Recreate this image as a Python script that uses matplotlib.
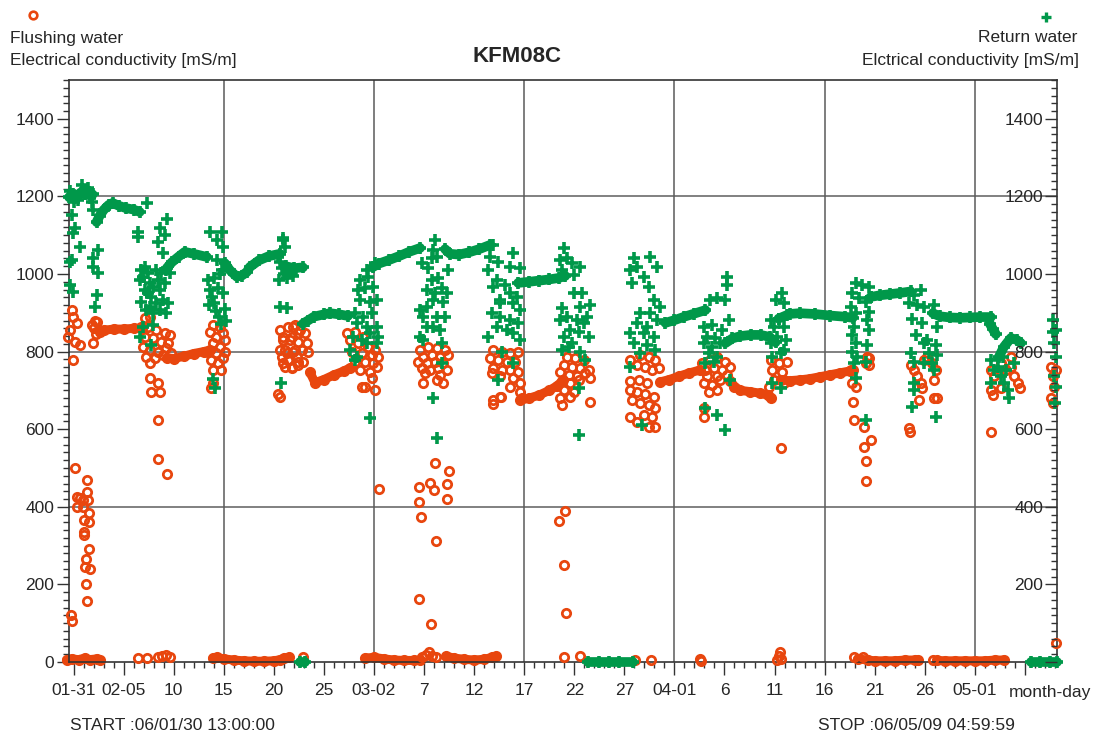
import datetime as dt
import numpy as np
import matplotlib
matplotlib.use("Agg")
import matplotlib.pyplot as plt
import matplotlib.dates as mdates
from matplotlib.lines import Line2D
from matplotlib.ticker import FixedLocator, FixedFormatter, MultipleLocator

NAN = np.nan
# ---------------- data (x = days after 2006-01-30 00:00) ----------------
start_time = dt.datetime(2006, 1, 30, 13, 0, 0)
stop_time = dt.datetime(2006, 5, 9, 4, 59, 59)

# Return water - continuous logger stretches (NaN separates stretches)
ret_trend_day = [0.55, 0.9, 1.3, 1.7, 2.1, 2.5, 2.9, NAN,
                 3.3, 3.6, 4.0, 4.5, 4.9, 5.5, 6.2, 7.0, 7.6, NAN,
                 10.3, 10.8, 11.5, 12.1, 13.0, 14.3, NAN,
                 16.1, 16.6, 17.3, 17.8, 18.3, 18.6, 19.5, 20.5, 21.6, NAN,
                 22.2, 23.0, 23.9, NAN,
                 23.9, 24.4, 25.0, 26.0, 26.6, 27.5, 28.4, NAN,
                 30.9, 31.5, 32.5, 33.5, 34.5, 35.6, NAN,
                 38.1, 38.6, 39.5, 40.5, 41.5, 42.6, NAN,
                 45.4, 46.5, 47.5, 48.5, 49.5, 50.1, NAN,
                 60.1, 61.0, 62.0, 63.0, 64.1, NAN,
                 66.1, 66.8, 67.6, 68.6, 69.6, 70.5, 71.1, NAN,
                 71.4, 72.5, 73.5, 75.0, 76.5, 78.0, 78.8, NAN,
                 80.6, 81.5, 82.5, 83.5, 84.6, NAN,
                 86.8, 87.5, 88.5, 89.5, 90.5, 91.5, 92.6, NAN,
                 92.5, 92.8, 93.1, NAN,
                 93.4, 93.9, 94.6, 95.2, 95.6]
ret_trend_val = [1198, 1205, 1200, 1210, 1206, 1212, 1205, NAN,
                 1134, 1150, 1165, 1178, 1183, 1176, 1170, 1166, 1160, NAN,
                 1015, 1030, 1045, 1057, 1052, 1044, NAN,
                 1028, 1010, 993, 996, 1005, 1018, 1035, 1046, 1052, NAN,
                 1020, 1015, 1017, NAN,
                 872, 880, 890, 896, 899, 896, 892, NAN,
                 1018, 1027, 1036, 1046, 1057, 1067, NAN,
                 1064, 1052, 1050, 1056, 1064, 1075, NAN,
                 977, 980, 983, 986, 990, 995, NAN,
                 874, 881, 890, 898, 907, NAN,
                 822, 834, 840, 843, 843, 838, 824, NAN,
                 885, 897, 899, 897, 893, 890, 887, NAN,
                 941, 945, 948, 951, 955, NAN,
                 899, 891, 888, 887, 888, 889, 889, NAN,
                 872, 858, 845, NAN,
                 786, 812, 835, 830, 822]

# Return water - stretches reading zero
ret_zero_day = [23.6, 24.1, NAN,
                52.4, 53.5, 54.5, 55.5, 56.9, NAN,
                96.6, 97.5, 98.5, 99.2]
ret_zero_val = [0, 0, NAN,
                0, 0, 0, 0, 0, NAN,
                0, 0, 0, 0]

# Return water - scattered readings
ret_pts_day = [0.8, 0.9, 1.1, 1.6, 0.8, 0.6, 0.9, 2.8, 2.9, 1.8, 2.1, 2.4, 1.0, 1.4, 0.6, 2.6, 2.9, 3.4, 2.9, 3.4, 3.3, 3.1, 0.6,
               8.3, 7.4, 7.4, 10.3, 9.6, 10.1, 9.4, 9.9, 7.77, 8.1, 8.43, 7.6, 7.93, 8.6, 8.93, 8.77, 9.27, 9.77, 10.27, 9.43,
               10.1, 9.6, 9.93, 10.43, 9.27, 8.6, 8.27, 8.93, 9.6, 10.27, 10.6, 8.1, 7.77, 8.43, 7.6, 7.93, 8.77, 8.93,
               14.6, 15.3, 15.8, 15.9, 15.3, 15.8, 14.4, 14.6, 14.8, 15.0, 15.2, 15.5, 15.7, 15.9, 16.1, 15.4, 14.5, 16.2, 15.0, 15.6, 15.1, 14.9,
               21.9, 22.1, 21.4, 21.6, 21.8, 22.0, 22.3, 22.6, 22.9, 23.2, 21.5, 21.6, 22.3, 21.7, 21.9,
               30.27, 31.1, 29.6, 30.43, 29.43, 30.1, 30.93, 29.6, 30.6, 31.27, 29.1, 29.93, 30.77, 29.27, 30.27, 31.27,
               28.93, 29.77, 30.6, 31.43, 28.6, 29.27, 30.27, 29.1, 31.27, 30.6,
               37.1, 36.93, 36.77, 37.27, 35.77, 36.43, 38.43, 37.43, 36.77, 36.27, 37.1, 37.77, 38.27, 35.6, 36.27, 36.93,
               37.93, 35.93, 37.27, 38.1, 36.27, 36.93, 37.6, 35.93, 37.77, 35.6, 36.87, 37.27, 37.77,
               42.93, 42.6, 43.43, 44.93, 44.6, 45.6, 42.43, 43.27, 44.1, 42.93, 44.6, 43.6, 44.93, 45.6, 42.77, 43.6,
               44.6, 45.43, 43.27, 44.27, 44.93, 45.6, 42.43, 43.6, 45.27, 43.77, 43.43, 44.93,
               49.93, 49.6, 50.27, 50.77, 51.6, 50.93, 49.77, 50.93, 51.77, 52.6, 51.6, 49.77, 50.27, 49.6, 51.27, 51.93,
               52.27, 50.6, 51.43, 52.43, 49.93, 50.77, 49.77, 51.6, 52.1, 50.43, 51.43, 51.43,
               56.93, 58.6, 56.6, 57.27, 59.27, 57.93, 56.77, 58.43, 58.93, 59.6, 57.6, 58.6, 57.27, 58.27, 59.27, 56.6,
               57.93, 58.93, 56.93, 58.27, 59.1, 57.6, 56.6, 57.77,
               66.27, 66.27, 64.6, 65.27, 66.1, 66.43, 63.93, 64.77, 65.77, 64.27, 65.1, 63.93, 64.77, 65.6, 64.43, 65.27,
               64.1, 64.93, 66.6, 64.1, 65.27, 66.1,
               71.77, 71.1, 71.93, 70.6, 71.43, 72.27, 70.93, 71.93, 70.6, 71.27, 72.1, 70.77, 71.6, 71.93, 70.77, 71.6,
               79.1, 79.77, 80.43, 80.6, 78.77, 79.43, 80.1, 80.43, 78.6, 79.1, 80.27, 80.43, 78.93, 78.77, 79.1, 80.27,
               78.77, 79.27, 80.1, 78.93, 79.1, 80.1,
               85.6, 84.93, 84.43, 85.27, 85.93, 84.77, 85.77, 86.93, 87.27, 86.27, 85.1, 85.93, 87.1, 86.43, 84.6, 84.93,
               85.93, 86.77, 87.27, 84.93, 84.93, 84.77, 86.93, 87.1,
               92.6, 92.93, 93.77, 93.27, 94.1, 93.93, 94.27, 94.43, 92.6, 94.93, 93.6,
               98.77, 99.1, 98.93, 99.1, 98.93, 99.1, 99.0, 98.8]
ret_pts_val = [1152, 1105, 1118, 1070, 1036, 972, 954, 1186, 1165, 1229, 1215, 1222, 1185, 1190, 1215, 1195, 1041, 1062, 1018, 1002, 946, 915, 1031,
               1183, 1108, 1095, 1142, 1118, 1100, 1083, 1054, 1010, 1019, 1002, 985, 993, 976, 967, 942, 1010, 1002, 1010, 985,
               976, 959, 933, 924, 924, 916, 907, 899, 907, 899, 1002, 959, 929, 950, 838, 864, 817, 869,
               1108, 1088, 1108, 1070, 1036, 1010, 985, 960, 940, 925, 905, 890, 870, 950, 910, 965, 920, 880, 990, 1000, 706, 730,
               1088, 1070, 1044, 1030, 1015, 1000, 990, 1005, 995, 1010, 985, 915, 912, 719, 1093,
               1010, 1028, 985, 993, 959, 963, 967, 933, 929, 933, 899, 890, 899, 873, 864, 864,
               838, 830, 847, 838, 804, 787, 821, 778, 821, 628,
               1088, 1062, 1040, 1045, 1028, 1015, 1010, 989, 985, 959, 950, 963, 950, 907, 916, 933,
               929, 890, 890, 890, 864, 864, 856, 830, 821, 838, 680, 577, 770,
               1075, 1045, 1032, 1053, 1019, 1015, 1010, 985, 972, 967, 950, 924, 924, 907, 899, 890,
               881, 873, 864, 856, 847, 830, 838, 933, 942, 800, 727, 770,
               1066, 1036, 1040, 1028, 1019, 997, 1010, 950, 950, 920, 916, 912, 890, 881, 881, 873,
               890, 856, 851, 838, 838, 821, 804, 800, 778, 813, 705, 585,
               1040, 1045, 1010, 1019, 1019, 993, 976, 967, 933, 916, 899, 899, 873, 864, 881, 847,
               847, 838, 821, 817, 804, 796, 761, 611,
               993, 972, 933, 937, 933, 881, 864, 869, 856, 838, 834, 821, 813, 821, 796, 787,
               770, 774, 727, 654, 637, 598,
               950, 933, 924, 881, 885, 894, 864, 864, 821, 838, 830, 787, 796, 804, 718, 705,
               976, 972, 967, 942, 950, 937, 929, 903, 916, 899, 881, 856, 864, 843, 821, 817,
               800, 787, 774, 770, 731, 624,
               959, 946, 924, 920, 916, 885, 873, 920, 864, 830, 843, 821, 817, 796, 796, 774,
               770, 770, 791, 718, 701, 658, 753, 632,
               778, 753, 787, 761, 753, 718, 701, 680, 718, 770, 736,
               851, 856, 821, 787, 736, 710, 667, 881]

# Flushing water - continuous logger stretches
flush_trend_day = [3.6, 4.0, 5.0, 6.0, 7.0, 7.8, NAN,
                   10.3, 11.0, 12.0, 13.0, 14.0, 14.6, NAN,
                   24.6, 25.1, 26.0, 27.0, 28.0, 28.6, NAN,
                   45.6, 46.5, 47.5, 48.5, 49.3, 49.9, NAN,
                   59.6, 60.5, 61.5, 62.5, 63.6, NAN,
                   66.6, 67.0, 67.6, 68.5, 69.5, 70.3, 70.6, NAN,
                   71.6, 72.5, 73.5, 74.5, 75.5, 76.5, 77.5, 78.5, 78.8]
flush_trend_val = [850, 855, 858, 858, 860, 860, NAN,
                   784, 782, 788, 795, 800, 804, NAN,
                   747, 720, 728, 740, 750, 758, NAN,
                   675, 680, 688, 700, 712, 727, NAN,
                   722, 728, 737, 745, 753, NAN,
                   725, 710, 700, 697, 693, 688, 680, NAN,
                   727, 725, 727, 730, 735, 740, 745, 750, 753]

# Flushing water - stretches near zero
flush_zero_day = [0.3, 0.8, 1.5, 2.1, 2.6, 3.3, 3.6, NAN,
                  14.9, 15.3, 16.0, 17.0, 18.0, 19.0, 20.0, 21.0, 21.6, 22.0, 22.5, NAN,
                  30.1, 31.0, 32.0, 33.0, 34.0, 35.0, 35.6, NAN,
                  38.2, 39.0, 40.0, 41.0, 42.0, 42.8, 43.2, NAN,
                  79.3, 80.3, 81.0, 82.0, 83.0, 84.0, 85.0, 85.3, NAN,
                  87.2, 88.0, 89.0, 90.0, 91.0, 92.0, 93.0, 93.9]
flush_zero_val = [6, 8, 6, 10, 6, 8, 5, NAN,
                  10, 12, 8, 5, 3, 2, 2, 3, 6, 10, 12, NAN,
                  10, 12, 8, 5, 4, 4, 5, NAN,
                  15, 10, 7, 5, 7, 12, 15, NAN,
                  8, 5, 3, 3, 3, 5, 5, 4, NAN,
                  4, 3, 3, 3, 3, 3, 5, 5]

# Flushing water - scattered readings
flush_pts_day = [0.8, 0.9, 1.3, 0.6, 0.4, 1.1, 1.6, 0.9, 2.9, 2.8, 3.1, 3.3, 3.0, 3.2,
                 1.1, 1.3, 1.6, 1.9, 1.3, 1.9, 2.4, 2.3, 2.3, 2.5, 2.0, 2.5, 2.0, 2.0, 2.5, 2.2, 2.1, 2.6, 2.2, 2.3, 0.7, 0.8,
                 8.1, 8.6, 7.77, 8.43, 9.27, 10.1, 10.6, 8.1, 8.93, 9.77, 10.43, 7.93, 8.6, 9.43, 10.27, 8.27, 9.1, 9.93,
                 10.77, 8.6, 8.6, 9.43, 8.77, 9.6, 9.43, 9.4, 10.3,
                 14.93, 15.6, 15.93, 14.6, 15.27, 16.1, 14.93, 15.6, 14.43, 15.27, 16.1, 14.77, 15.43, 15.93, 14.93, 15.77, 14.93, 14.77,
                 22.93, 23.6, 24.1, 21.93, 22.6, 23.43, 24.27, 22.1, 22.93, 23.77, 24.43, 21.77, 22.43, 23.27, 23.93, 22.1,
                 22.77, 23.43, 21.6, 21.4, 21.6, 22.43, 23.1, 21.93, 22.77, 23.43, 21.6, 22.27, 23.1, 21.93, 22.77, 23.43,
                 28.27, 29.1, 29.93, 28.6, 29.43, 30.43, 31.1, 28.77, 29.77, 30.77, 31.43, 29.1, 30.1, 30.93, 29.6, 30.6,
                 31.27, 30.77, 29.77, 30.1, 31.1, 31.5,
                 35.6, 36.43, 37.27, 38.1, 35.93, 36.77, 37.6, 38.43, 35.43, 36.27, 37.1, 37.93, 35.77, 36.6, 37.43, 38.27,
                 36.1, 37.6, 37.27, 37.93, 35.93,
                 35.5, 36.6, 37.0, 37.1, 38.5, 38.3, 38.3, 35.5, 35.7, 37.2, 35.5, 36.7,
                 42.93, 43.77, 44.6, 45.43, 42.6, 43.43, 44.27, 45.1, 42.93, 43.77, 44.6, 45.43, 42.77, 43.6, 44.93, 45.6,
                 44.6, 45.6, 42.93, 43.6, 45.77, 42.9, 43.7,
                 50.27, 51.1, 51.93, 49.93, 50.77, 51.6, 52.43, 49.6, 50.43, 51.27, 52.1, 52.6, 49.77, 50.6, 51.43, 49.93,
                 50.93, 49.6, 50.6, 49.77, 52.6, 49.5, 50.1, 50.0, 50.2,
                 57.6, 58.43, 59.1, 56.6, 57.27, 58.1, 58.77, 59.43, 56.6, 57.43, 58.27, 56.6, 57.27, 58.1, 58.93, 56.77,
                 57.6, 58.43, 59.1, 56.6, 57.93, 58.77, 57.27, 58.43, 59.1,
                 63.77, 64.6, 65.27, 66.1, 66.6, 64.1, 64.93, 65.77, 64.27, 65.27, 66.27, 63.93, 64.77, 65.6, 64.43, 65.27,
                 63.93, 63.93,
                 70.6, 71.43, 72.27, 70.77, 71.77, 70.93, 71.93, 70.43, 71.6,
                 78.8, 78.9, 79.9, 80.4, 80.6, 79.9, 80.1, 80.1, 78.6, 78.77, 79.1, 80.1, 80.27, 80.43,
                 84.6, 84.93, 85.27, 85.6, 85.77, 85.43, 85.93, 86.27, 86.77, 87.1, 86.93, 86.93, 87.27, 84.43, 84.5,
                 92.6, 92.93, 93.6, 94.1, 94.6, 94.93, 95.27, 95.53, 92.6, 92.77, 93.6, 92.6, 94.6,
                 98.6, 98.77, 98.93, 98.6, 98.77, 99.1,
                 7.4, 8.3, 9.4, 9.8, 10.2, 10.6, 23.9, 35.8, 36.2, 36.5, 36.8, 37.2, 50.0, 51.6, 57.1, 58.7,
                 63.6, 63.7, 71.2, 71.4, 71.5, 71.6, 78.9, 79.8, 86.8, 99.15]
flush_pts_val = [907, 889, 874, 856, 838, 825, 817, 778, 822, 869, 880, 876, 860, 845,
                 500, 425, 422, 417, 400, 400, 417, 469, 438, 384, 366, 361, 335, 327, 291, 265, 245, 240, 201, 157, 121, 106,
                 886, 890, 864, 864, 856, 847, 843, 838, 834, 826, 821, 813, 804, 800, 808, 787, 783, 791,
                 796, 770, 731, 718, 697, 697, 624, 523, 485,
                 869, 864, 847, 851, 838, 830, 821, 813, 800, 796, 800, 778, 770, 783, 753, 753, 718, 705,
                 864, 856, 847, 838, 830, 826, 821, 804, 800, 804, 800, 787, 778, 787, 774, 761,
                 757, 765, 684, 690, 856, 864, 869, 830, 838, 847, 804, 796, 804, 770, 761, 774,
                 847, 851, 838, 830, 821, 813, 804, 800, 796, 791, 787, 774, 774, 770, 753, 748,
                 761, 731, 710, 710, 701, 446,
                 804, 813, 808, 804, 787, 791, 787, 791, 774, 770, 774, 770, 757, 753, 757, 753,
                 744, 740, 727, 718, 718,
                 451, 461, 443, 513, 492, 459, 420, 412, 374, 312, 162, 98,
                 804, 800, 796, 800, 783, 778, 774, 774, 757, 753, 753, 748, 744, 736, 731, 718,
                 710, 697, 675, 684, 680, 665, 683,
                 787, 783, 778, 765, 761, 757, 753, 748, 740, 736, 744, 731, 723, 718, 727, 701,
                 697, 680, 684, 662, 671, 363, 389, 250, 126,
                 791, 787, 778, 778, 765, 761, 753, 757, 723, 727, 718, 701, 697, 692, 684, 675,
                 667, 662, 654, 632, 637, 632, 619, 606, 606,
                 770, 778, 787, 774, 761, 753, 757, 753, 736, 736, 740, 718, 714, 727, 697, 701,
                 654, 632,
                 778, 770, 774, 753, 748, 727, 718, 710, 551,
                 670, 623, 606, 783, 572, 554, 518, 467, 753, 718, 710, 770, 787, 765,
                 765, 753, 736, 718, 705, 675, 778, 787, 770, 753, 727, 680, 680, 603, 593,
                 753, 736, 770, 753, 761, 736, 718, 705, 701, 688, 705, 593, 787,
                 761, 736, 710, 680, 667, 753,
                 10, 10, 12, 16, 18, 12, 12, 12, 18, 27, 15, 12, 13, 15, 5, 5,
                 8, 3, 5, 15, 25, 8, 12, 12, 5, 49]

# Axis labelling values
y_major = [0, 200, 400, 600, 800, 1000, 1200, 1400]
y_right_labels = ["", "200", "400", "600", "800", "1000", "1200", "1400"]
y_grid = [400, 800, 1200]
x_major_day = [1 + 5 * k for k in range(20)]          # Jan 31 ... May 6
x_grid_day = [16, 31, 46, 61, 76, 91]                 # every 15 days

# ---------------- styling ----------------
ORANGE = "#E8460E"
GREEN = "#00984A"
TXT = "#262626"
plt.rcParams["font.family"] = ["Liberation Sans", "DejaVu Sans"]

base = dt.datetime(2006, 1, 30)
base_num = mdates.date2num(base)


def to_x(days):
    return base_num + np.asarray(days, dtype=float)


fig = plt.figure(figsize=(10.97, 7.37), dpi=100)
ax = fig.add_axes([69 / 1097, 1 - 662 / 737, (1057 - 69) / 1097, (662 - 80) / 737])

ax.set_xlim(mdates.date2num(start_time), mdates.date2num(stop_time))
ax.set_ylim(0, 1500)

for yv in y_grid:
    ax.axhline(yv, color="#808080", lw=1.4, zorder=1)
for d in x_grid_day:
    ax.axvline(to_x(d), color="#5a5a5a", lw=1.1, zorder=1)

CIRC = dict(ls="none", marker="o", ms=6, mfc="none", mec=ORANGE, mew=2.0)
PLUS = dict(ls="none", marker="+", ms=8, mec=GREEN, mew=2.6)

# Flushing water (orange open circles)
for xs, ys in ((flush_trend_day, flush_trend_val), (flush_zero_day, flush_zero_val)):
    ax.plot(to_x(xs), ys, color=ORANGE, lw=6.5, solid_capstyle="round",
            zorder=2, clip_on=False)
    ax.plot(to_x(xs), ys, zorder=2, clip_on=False, **CIRC)
ax.plot(to_x(flush_pts_day), flush_pts_val, zorder=3, clip_on=False, **CIRC)

# Return water (green plus)
for xs, ys in ((ret_trend_day, ret_trend_val), (ret_zero_day, ret_zero_val)):
    ax.plot(to_x(xs), ys, color=GREEN, lw=7, solid_capstyle="round",
            zorder=4, clip_on=False)
    ax.plot(to_x(xs), ys, zorder=4, clip_on=False, **PLUS)
ax.plot(to_x(ret_pts_day), ret_pts_val, zorder=5, clip_on=False, **PLUS)

# ---- axes cosmetics
for sp in ax.spines.values():
    sp.set_color("#333333")
    sp.set_linewidth(1.2)

labels = []
prev = None
for k, d in enumerate(x_major_day):
    date = base + dt.timedelta(days=d)
    if k == len(x_major_day) - 1:
        labels.append("")
    elif prev is None or date.month != prev.month:
        labels.append(date.strftime("%m-%d"))
    else:
        labels.append(str(date.day))
    prev = date
ax.xaxis.set_major_locator(FixedLocator(to_x(x_major_day)))
ax.xaxis.set_major_formatter(FixedFormatter(labels))
ax.xaxis.set_minor_locator(FixedLocator(to_x(np.arange(1, 100))))
ax.tick_params(axis="x", which="major", direction="out", length=9, width=1.0,
               color="#333333", labelsize=12.5, labelcolor=TXT, pad=6)
ax.tick_params(axis="x", which="minor", direction="out", length=4.5, width=1.0,
               color="#333333")

ax.yaxis.set_major_locator(FixedLocator(y_major))
ax.yaxis.set_minor_locator(MultipleLocator(20))
ax.tick_params(axis="y", which="major", direction="out", length=9, width=1.0,
               color="#333333", labelsize=12.5, labelcolor=TXT, pad=1.5)
ax.tick_params(axis="y", which="minor", direction="out", length=4.5, width=1.0,
               color="#333333")

axr = ax.twinx()
axr.set_ylim(0, 1500)
axr.yaxis.set_major_locator(FixedLocator(y_major))
axr.yaxis.set_major_formatter(FixedFormatter(y_right_labels))
axr.yaxis.set_minor_locator(MultipleLocator(20))
axr.tick_params(axis="y", which="major", direction="in", length=9, width=1.0,
                color="#333333", labelsize=12.5, labelcolor=TXT, pad=-10)
axr.tick_params(axis="y", which="minor", direction="in", length=4.5, width=1.0,
                color="#333333")
for lab in axr.get_yticklabels():
    lab.set_horizontalalignment("right")
for sp in axr.spines.values():
    sp.set_visible(False)

# ---- header / footer texts
fs = 12.5
fig.text(517 / 1097, 1 - 57 / 737, "KFM08C", ha="center", va="center",
         fontsize=16, fontweight="bold", color=TXT)
fig.add_artist(Line2D([33 / 1097], [1 - 15 / 737], marker="o", ms=5.5, mfc="none",
                      mec=ORANGE, mew=1.9, transform=fig.transFigure))
fig.text(10 / 1097, 1 - 38 / 737, "Flushing water", ha="left", va="center",
         fontsize=fs, color=TXT)
fig.text(10 / 1097, 1 - 61 / 737, "Electrical conductivity [mS/m]", ha="left",
         va="center", fontsize=fs, color=TXT)
fig.add_artist(Line2D([1046 / 1097], [1 - 17 / 737], marker="+", ms=7,
                      mec=GREEN, mew=2.4, transform=fig.transFigure))
fig.text(1077 / 1097, 1 - 38 / 737, "Return water", ha="right", va="center",
         fontsize=fs, color=TXT)
fig.text(1079 / 1097, 1 - 61 / 737, "Elctrical conductivity [mS/m]", ha="right",
         va="center", fontsize=fs, color=TXT)
fig.text(1009 / 1097, 1 - 692 / 737, "month-day", ha="left", va="center",
         fontsize=fs, color=TXT)
fig.text(70 / 1097, 1 - 725 / 737,
         "START :" + start_time.strftime("%y/%m/%d %H:%M:%S"),
         ha="left", va="center", fontsize=fs, color=TXT)
fig.text(818 / 1097, 1 - 725 / 737,
         "STOP :" + stop_time.strftime("%y/%m/%d %H:%M:%S"),
         ha="left", va="center", fontsize=fs, color=TXT)

fig.savefig("out.png", dpi=100)
